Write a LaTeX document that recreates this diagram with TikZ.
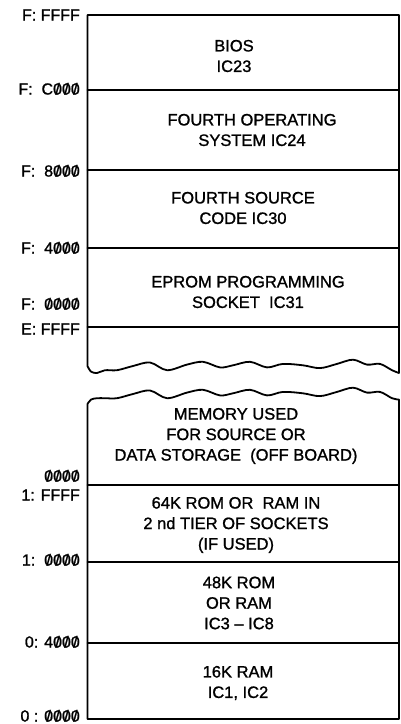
\documentclass[tikz,border=0pt]{standalone}
\usepackage{fontspec}
\setmainfont{Liberation Sans}[FakeBold=1.2]
\newcommand\zs{\ooalign{0\cr\hidewidth/\hidewidth\cr}}
\begin{document}
\begin{tikzpicture}[x=1pt,y=-1pt,
  boxline/.style={line width=1.8pt,line join=round,line cap=round},
  content/.style={align=center,inner sep=0pt,font=\fontsize{16.5}{20.5}\selectfont},
  addr/.style={anchor=east,inner sep=0pt,font=\fontsize{16}{18}\selectfont}]
\useasboundingbox[fill=white] (0,0) rectangle (401,724);
\def\L{87.5}
\def\R{399}
\coordinate (tl) at (\L,15);
\coordinate (tr) at (\R,15);
\coordinate (c0l) at (\L,90);  \coordinate (c0r) at (\R,90);
\coordinate (80l) at (\L,170); \coordinate (80r) at (\R,170);
\coordinate (40l) at (\L,248); \coordinate (40r) at (\R,248);
\coordinate (efl) at (\L,327); \coordinate (efr) at (\R,327);
\coordinate (b1l) at (\L,485); \coordinate (b1r) at (\R,485);
\coordinate (10l) at (\L,562); \coordinate (10r) at (\R,562);
\coordinate (04l) at (\L,643); \coordinate (04r) at (\R,643);
\coordinate (bl) at (\L,719);  \coordinate (br) at (\R,719);
% upper block with wavy bottom
\draw[boxline] (\R,373) -- (tr) -- (tl) -- (\L,366)
  -- plot[smooth,tension=0.55] coordinates {(\L,366) (91,371.6) (97,373) (105,370.2) (117,370.2) (133,366) (150,362.5) (167,370.2) (187,364.6) (203,361.8) (220,367.4) (233,365.3) (250,361.8) (267,367.4) (283,363.9) (303,365.3) (320,368.1) (337,363.9) (353,359.7) (367,364.6) (380,363.9) (392,370.2) (\R,373)};
% lower block with wavy top
\draw[boxline] (\R,399.6)
  -- plot[smooth,tension=0.55] coordinates {(\R,399.6) (392,398.2) (380,391.9) (367,392.6) (353,387.7) (337,391.9) (320,396.1) (303,393.3) (283,391.9) (267,395.4) (250,389.8) (233,393.3) (220,395.4) (203,389.8) (187,392.6) (167,398.2) (150,390.5) (133,394) (117,398.2) (105,398.2) (97,398.2) (91,399.6) (\L,404)}
  -- (bl) -- (br) -- cycle;
% dividing lines
\foreach \a in {c0,80,40,ef,b1,10,04}{
  \draw[boxline] (\a l) -- (\a r);
}
% contents
\node[content] (bios) at (234,56) {BIOS\\IC23};
\node[content] (fos) at (252,130) {FOURTH OPERATING\\SYSTEM IC24};
\node[content] (fsc) at (243,208) {FOURTH SOURCE\\CODE IC30};
\node[content] (eprom) at (248,292) {EPROM PROGRAMMING\\SOCKET\ \ IC31};
\node[content] (mem) at (236,436) {MEMORY USED\\FOR SOURCE OR\\DATA STORAGE\ \ (OFF BOARD)};
\node[content] (k64) at (236,525) {64K ROM OR\ \ RAM IN\\2 nd TIER OF SOCKETS\\(IF USED)};
\node[content] (k48) at (239,603) {48K ROM\\OR RAM\\IC3 – IC8};
\node[content] (k16) at (238,683) {16K RAM\\IC1, IC2};
% addresses
\node[addr] (aFFFF) at (80,15) {F: FFFF};
\node[addr] (aC000) at (80,89) {F:\ \ C\zs\zs\zs};
\node[addr] (a8000) at (80,171) {F:\ \ 8\zs\zs\zs};
\node[addr] (a4000) at (80,248) {F:\ \ 4\zs\zs\zs};
\node[addr] (aF0000) at (80,304) {F:\ \ \zs\zs\zs\zs};
\node[addr] (aEFFFF) at (80,329) {E: FFFF};
\node[addr] (a0000) at (80,476) {\zs\zs\zs\zs};
\node[addr] (a1FFFF) at (80,495) {1: FFFF};
\node[addr] (a10000) at (80,560) {1:\ \ \zs\zs\zs\zs};
\node[addr] (a04000) at (80,642) {0: 4\zs\zs\zs};
\node[addr] (a00000) at (80,716) {0 : \zs\zs\zs\zs};
\end{tikzpicture}
\end{document}
